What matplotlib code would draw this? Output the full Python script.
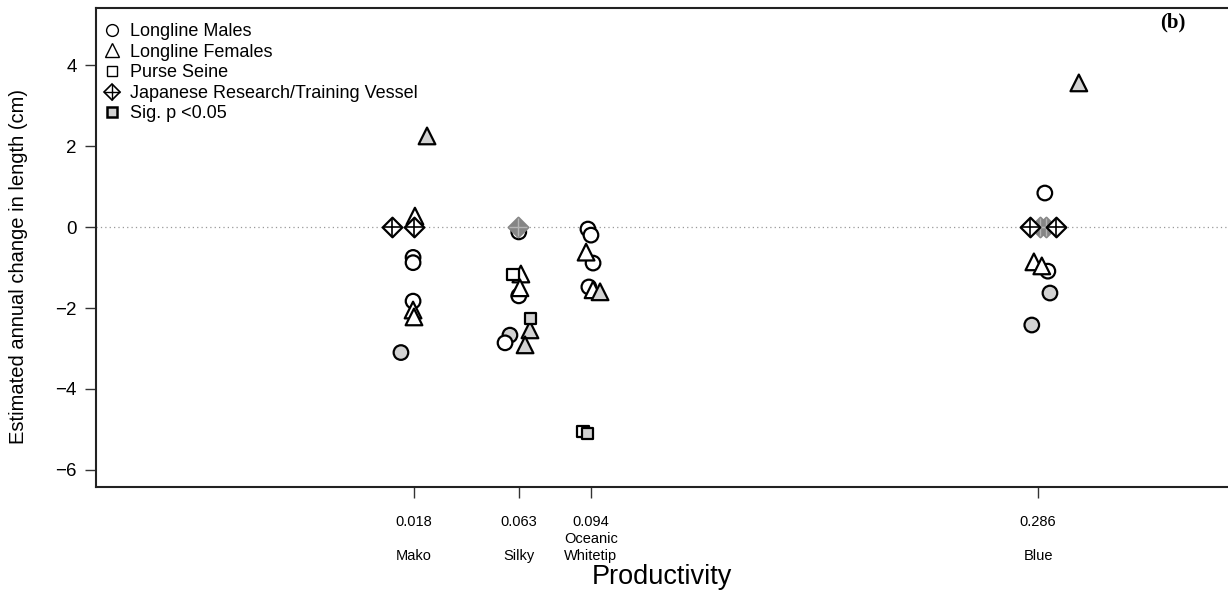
import numpy as np
import matplotlib.pyplot as plt
from matplotlib.lines import Line2D

plt.rcParams['font.family'] = ['Liberation Sans', 'DejaVu Sans']

species = ["Mako", "Silky", "Oceanic\nWhitetip", "Blue"]
productivity = [0.018, 0.063, 0.094, 0.286]
prod_labels = ["0.018", "0.063", "0.094", "0.286"]

# x = productivity with the small jitter seen in the figure, y = annual change (cm)
# longline males (circles)
lm_x = [0.0176, 0.0176, 0.0176, 0.0124, 0.0630, 0.0630, 0.0592, 0.0571,
        0.0927, 0.0940, 0.0949, 0.0931, 0.2889, 0.2902, 0.2911, 0.2833]
lm_y = [-0.75, -0.88, -1.83, -3.10, -0.12, -1.70, -2.67, -2.86,
        -0.05, -0.20, -0.89, -1.48, 0.84, -1.09, -1.63, -2.42]
lm_sig = [0, 0, 0, 1, 0, 0, 1, 0, 0, 0, 0, 0, 0, 0, 1, 1]

# longline females (triangles)
lf_x = [0.0184, 0.0236, 0.0176, 0.0180, 0.0639, 0.0635, 0.0678, 0.0657,
        0.0919, 0.0949, 0.0979, 0.3035, 0.2842, 0.2876]
lf_y = [0.27, 2.25, -2.05, -2.22, -1.16, -1.50, -2.54, -2.91,
        -0.62, -1.55, -1.60, 3.56, -0.86, -0.96]
lf_sig = [0, 1, 0, 0, 0, 0, 1, 1, 0, 0, 1, 1, 0, 0]

# purse seine (squares)
ps_x = [0.0605, 0.0682, 0.0906, 0.0927]
ps_y = [-1.18, -2.25, -5.06, -5.09]
ps_sig = [0, 1, 0, 1]

# japanese research/training vessel (diamond plus)
jr_x = [0.0086, 0.0180, 0.0627, 0.2825, 0.2937, 0.2868, 0.2894]
jr_y = [0.0, 0.0, 0.0, 0.0, 0.0, 0.0, 0.0]
jr_sig = [0, 0, 1, 0, 0, 1, 1]

sig_fill = "#d2d2d2"
jr_grey = "#858585"

fig = plt.figure(figsize=(12.28, 5.92), dpi=100)
ax = fig.add_axes([0.0782, 0.1774, 0.927, 0.8091])

ax.axhline(0, color="#999999", lw=0.9, ls=(0, (1, 2.5)), zorder=1)


def draw(xs, ys, sig, marker, ms):
    xs = np.array(xs)
    ys = np.array(ys)
    sig = np.array(sig, dtype=bool)
    fc = np.where(sig, sig_fill, "white")
    ax.scatter(xs, ys, s=ms ** 2, marker=marker, facecolors=fc,
               edgecolors="black", linewidths=1.6, zorder=3)


draw(lm_x, lm_y, lm_sig, "o", 10.5)
draw(lf_x, lf_y, lf_sig, "^", 12)
draw(ps_x, ps_y, ps_sig, "s", 8)

jx = np.array(jr_x)
jy = np.array(jr_y)
js = np.array(jr_sig, dtype=bool)
ax.scatter(jx[js], jy[js], s=10 ** 2, marker="D", facecolors=jr_grey,
           edgecolors=jr_grey, linewidths=1.6, zorder=4)
ax.scatter(jx[js], jy[js], s=13.5 ** 2, marker="+", color="#b5b5b5",
           linewidths=1.0, zorder=4)
ax.scatter(jx[~js], jy[~js], s=10 ** 2, marker="D", facecolors="white",
           edgecolors="black", linewidths=1.6, zorder=5)
ax.scatter(jx[~js], jy[~js], s=13.5 ** 2, marker="+", color="black",
           linewidths=1.2, zorder=5)

ax.set_xlim(-0.11854, 0.3703)
ax.set_ylim(-6.42, 5.41)
ax.set_yticks([-6, -4, -2, 0, 2, 4])
ax.set_xticks(productivity)
ax.set_xticklabels([])
ax.tick_params(axis="both", direction="out", length=8, width=1.0,
               colors="#333333", labelcolor="black")
ax.tick_params(axis="y", labelsize=13.5, pad=6)
for s in ax.spines.values():
    s.set_linewidth(1.5)
    s.set_color("#222222")

trans = ax.get_xaxis_transform()
for p, lab, sp in zip(productivity, prod_labels, species):
    ax.text(p, -0.073, lab, transform=trans, ha="center", va="center", fontsize=10.5)
    ax.text(p, -0.158, sp, transform=trans, ha="center", va="bottom",
            fontsize=10.5, linespacing=1.22)

ax.set_ylabel("Estimated annual change in length (cm)", fontsize=14.5)
ax.yaxis.set_label_coords(-0.0598, 0.46)
fig.text(0.539, 0.025, "Productivity", ha="center", va="center", fontsize=19.5)
fig.text(0.955, 0.962, "(b)", ha="center", va="center", fontsize=15,
         fontweight="bold", family="Liberation Serif")

handles = [
    Line2D([], [], ls="none", marker="o", ms=8.5, mfc="white", mec="black", mew=1.0),
    Line2D([], [], ls="none", marker="^", ms=10, mfc="white", mec="black", mew=1.0),
    Line2D([], [], ls="none", marker="s", ms=7, mfc="white", mec="black", mew=1.0),
    (Line2D([], [], ls="none", marker="D", ms=8.5, mfc="white", mec="black", mew=1.2),
     Line2D([], [], ls="none", marker="+", ms=12, mec="black", mew=1.0)),
    Line2D([], [], ls="none", marker="s", ms=7.5, mfc=sig_fill, mec="black", mew=1.8),
]
labels = ["Longline Males", "Longline Females", "Purse Seine",
          "Japanese Research/Training Vessel", "Sig. p <0.05"]
ax.legend(handles, labels, loc="upper left", bbox_to_anchor=(-0.004, 0.995),
          frameon=False, fontsize=13, handlelength=0.9, handletextpad=0.55,
          labelspacing=0.2, borderaxespad=0.3)

fig.savefig("out.png", dpi=100)
